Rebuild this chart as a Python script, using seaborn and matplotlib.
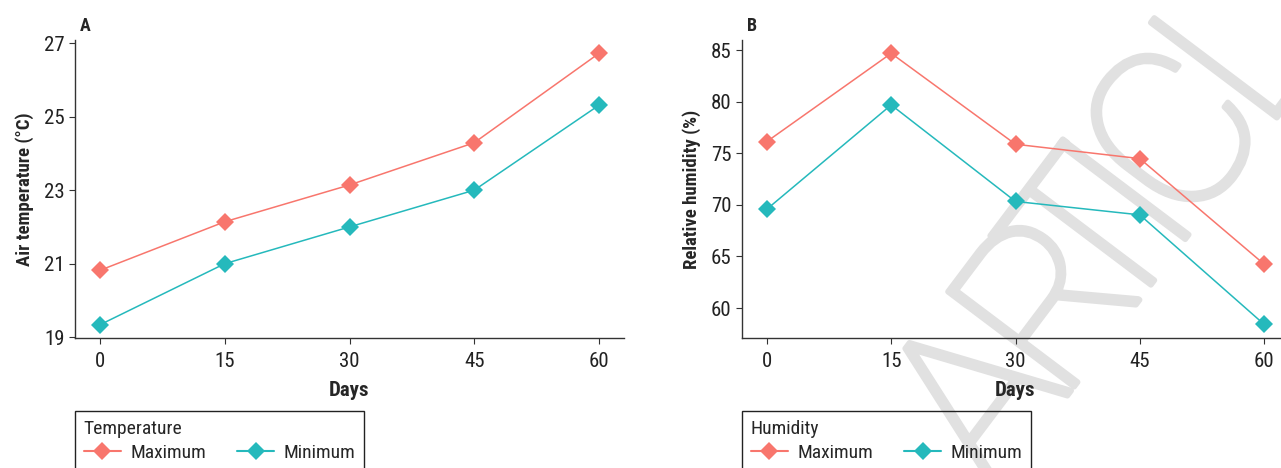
import numpy as np
import pandas as pd
import matplotlib
matplotlib.use("Agg")
import matplotlib.pyplot as plt
from matplotlib.lines import Line2D
from matplotlib import font_manager as fm
import matplotlib.patheffects as pe
import seaborn as sns

# Datos
dias = [0, 15, 30, 45, 60]
temp_max = [20.82, 22.14, 23.14, 24.29, 26.72]
temp_min = [19.34, 21.0, 22.0, 23.0, 25.31]
hum_max = [76.13, 84.68, 75.87, 74.48, 64.25]
hum_min = [69.58, 79.68, 70.33, 69.03, 58.42]
series = ["Maximum", "Minimum"]
colores = {"Maximum": "#F8766D", "Minimum": "#25B9BC"}
ticks_temp = [19, 21, 23, 25, 27]
ticks_hum = [60, 65, 70, 75, 80, 85]

sns.set_theme(style="ticks")


# buscar una fuente estrecha que tenga normal y negrita
def pesos(nombre):
    out = set()
    for f in fm.fontManager.ttflist:
        if f.name == nombre:
            w = f.weight
            if isinstance(w, str):
                w = fm.weight_dict.get(w, 400)
            out.add(int(w))
    return out


nombres = sorted({f.name for f in fm.fontManager.ttflist})
preferidas = ["Liberation Sans Narrow", "Roboto Condensed", "Open Sans Condensed",
              "Noto Sans Condensed", "Arial Narrow"]
estrechas = [n for n in preferidas if n in nombres]
estrechas += [n for n in nombres if ("Narrow" in n or "Condensed" in n)
              and n not in estrechas]
fuente = None
for n in estrechas:
    p = pesos(n)
    if any(w <= 450 for w in p) and any(w >= 650 for w in p):
        fuente = n
        break
if fuente:
    plt.rcParams["font.family"] = [fuente, "DejaVu Sans"]
else:
    plt.rcParams["font.family"] = ["DejaVu Sans"]
    plt.rcParams["font.stretch"] = "condensed"

plt.rcParams["axes.edgecolor"] = "#333333"
plt.rcParams["xtick.color"] = "#333333"
plt.rcParams["ytick.color"] = "#333333"

W, H = 1281, 468
fig = plt.figure(figsize=(W / 100, H / 100), dpi=100)


def px_axes(x0, x1, y0, y1):
    return fig.add_axes([x0 / W, 1 - y1 / H, (x1 - x0) / W, (y1 - y0) / H])


def largo(vmax, vmin):
    return pd.DataFrame({
        "Days": dias * 2,
        "valor": vmax + vmin,
        "tipo": ["Maximum"] * len(dias) + ["Minimum"] * len(dias),
    })


def panel(ax, df, ylabel, yticks, ylim, letra, titulo_leyenda, x_ley):
    ax.set_facecolor("none")
    sns.lineplot(data=df, x="Days", y="valor", hue="tipo", palette=colores,
                 marker="D", markersize=9.5, markeredgewidth=0, linewidth=1.1,
                 legend=False, ax=ax)
    ax.set_xlim(-3, 63)
    ax.set_ylim(*ylim)
    ax.set_xticks(dias)
    ax.set_yticks(yticks)
    ax.tick_params(labelsize=15, length=4, width=0.8, labelcolor="#222222")
    ax.tick_params(axis="x", pad=6)
    ax.set_xlabel("Days", fontsize=15, fontweight="bold", labelpad=7)
    ax.set_ylabel(ylabel, fontsize=13.5, fontweight="bold", labelpad=7)
    for s in ["top", "right"]:
        ax.spines[s].set_visible(False)
    for s in ["left", "bottom"]:
        ax.spines[s].set_linewidth(1.0)
    # letra del panel: linea base a 31 px del borde superior
    pos = ax.get_position()
    y_top = (1 - pos.y1) * H
    y_bot = (1 - pos.y0) * H
    ax.text(5 / (pos.width * W), (y_bot - 31) / (y_bot - y_top), letra,
            transform=ax.transAxes, fontsize=13, fontweight="bold",
            ha="left", va="baseline")

    handles = [Line2D([], [], color=colores[s], marker="D", markersize=9.5,
                      markeredgewidth=0, linewidth=1.5) for s in series]
    fig.legend(handles, series, title=titulo_leyenda, ncol=2,
               loc="upper left", bbox_to_anchor=(x_ley / W, 1 - 411 / H),
               borderaxespad=0, fontsize=14, title_fontsize=14,
               alignment="left", frameon=True, fancybox=False,
               edgecolor="#222222", facecolor="none", framealpha=1,
               handlelength=1.9, columnspacing=1.6, handletextpad=0.5,
               borderpad=0.45, labelspacing=0.3)


# marca de agua de fondo, letra a letra a lo largo de una linea inclinada
angulo = 53
u = np.array([np.cos(np.radians(angulo)), -np.sin(np.radians(angulo))])
base_i = np.array([1187.0, 237.0])
letras = ["A", "R", "T", "I", "C", "L"]
avance = [-255, -136, -57, 0, 75, 185]
for letra, s in zip(letras, avance):
    px, py = base_i + s * u
    fig.text(px / W, 1 - py / H, letra, rotation=angulo,
             rotation_mode="anchor", ha="center", va="baseline",
             fontsize=160, family="Roboto", fontweight="light",
             color="#e1e1e1", zorder=-5,
             path_effects=[pe.withStroke(linewidth=4, foreground="#e1e1e1")])

ax1 = px_axes(75, 624, 39.7, 338)
panel(ax1, largo(temp_max, temp_min), "Air temperature (°C)", ticks_temp,
      (18.98, 27.09), "A", "Temperature", 75)

ax2 = px_axes(742, 1289, 39.8, 338)
panel(ax2, largo(hum_max, hum_min), "Relative humidity (%)", ticks_hum,
      (57.1, 85.99), "B", "Humidity", 742)

plt.savefig("out.png", dpi=100)
plt.close()
